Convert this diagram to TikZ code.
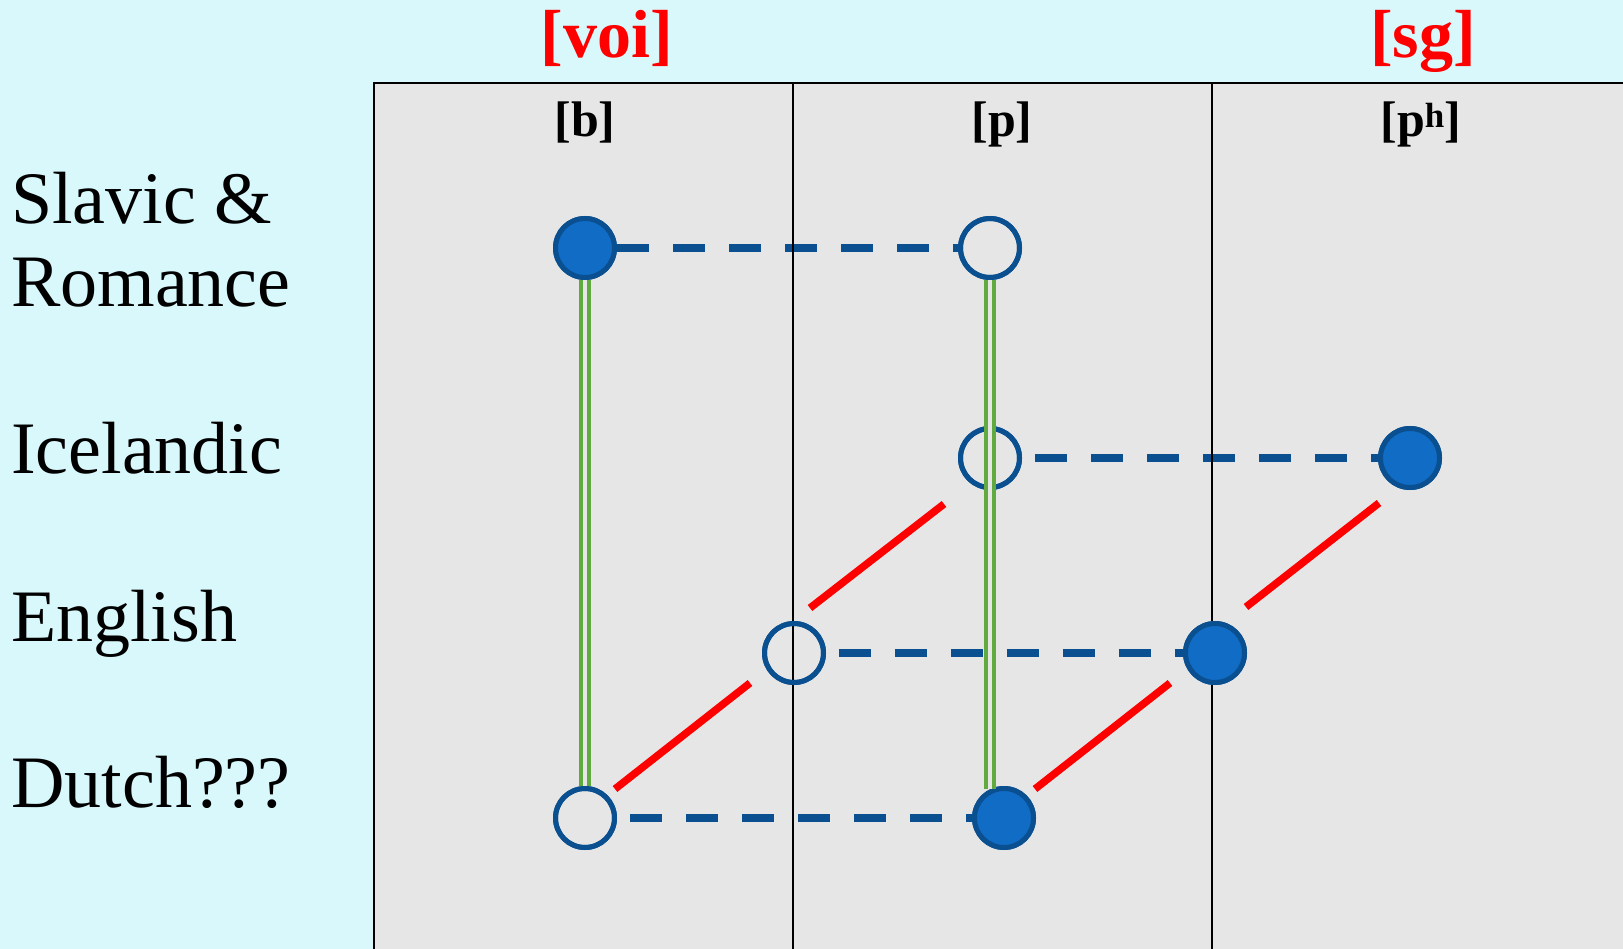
\documentclass[tikz,border=0pt]{standalone}
\usepackage{fontspec}
\setmainfont{Liberation Serif}
\usetikzlibrary{calc}
\definecolor{bgcyan}{RGB}{216,248,252}
\definecolor{cellgray}{RGB}{230,230,230}
\definecolor{dotfill}{RGB}{16,108,196}
\definecolor{dotline}{RGB}{10,80,145}
\definecolor{linkgreen}{RGB}{96,170,64}
\begin{document}
\begin{tikzpicture}[x=1pt,y=-1pt,
 dot/.style={circle,draw=dotline,line width=5pt,minimum size=59pt,inner sep=0pt},
 filled/.style={dot,fill=dotfill},
 hollow/.style={dot},
 link/.style={draw=dotline,line width=8pt,dash pattern=on 32pt off 24pt},
 twin/.style={draw=linkgreen,line width=4pt,double=cellgray,double distance=4pt},
 diag/.style={draw=red,line width=7.5pt},
 gridline/.style={draw=black,line width=2.5pt},
 lang/.style={anchor=base west,inner sep=0pt,font=\fontsize{74}{80}\selectfont},
 feat/.style={anchor=base,inner sep=0pt,text=red,font=\bfseries\fontsize{68}{72}\selectfont},
 seg/.style={anchor=base,inner sep=0pt,font=\bfseries\fontsize{50}{56}\selectfont}]
\useasboundingbox (0,0) rectangle (1623,949);
\fill[bgcyan] (0,0) rectangle (1623,949);
\fill[cellgray] (374,83) rectangle (1623,949);

% dots (positions)
\node[filled] (A) at (585,248) {};
\node[hollow] (B) at (990,248) {};
\node[hollow] (C) at (990,458) {};
\node[filled] (D) at (1410,458) {};
\node[hollow] (E) at (794,653) {};
\node[filled] (F) at (1215,653) {};
\node[hollow] (G) at (585,818) {};
\node[filled] (H) at (1004,818) {};

% dashed links
\draw[link] (A) -- (B);
\draw[link,shorten <=13pt] (C) -- (D);
\draw[link,shorten <=13pt] (E) -- (F);
\draw[link,shorten <=13pt] (G) -- (H);

% grid
\draw[gridline] (374,949) -- (374,83) -- (1623,83);
\draw[gridline] (793,83) -- (793,949);
\draw[gridline] (1212,83) -- (1212,949);

% redraw dots on top
\node[filled] at (A) {};
\node[hollow] at (B) {};
\node[hollow] at (C) {};
\node[filled] at (D) {};
\node[hollow] at (E) {};
\node[filled] at (F) {};
\node[hollow] at (G) {};
\node[filled] at (H) {};

% red diagonals
\coordinate (r1a) at (615,789); \coordinate (r1b) at (750,683);
\coordinate (r2a) at (810,608); \coordinate (r2b) at (944,504);
\coordinate (r3a) at (1035,789); \coordinate (r3b) at (1170,683);
\coordinate (r4a) at (1246,607); \coordinate (r4b) at (1379,503);
\draw[diag] (r1a) -- (r1b);
\draw[diag] (r2a) -- (r2b);
\draw[diag] (r3a) -- (r3b);
\draw[diag] (r4a) -- (r4b);

% green double lines
\draw[twin] (A.south) -- (G.north);
\draw[twin] (B.south) -- (B.south |- H.116);

% labels
\node[lang] (slav) at (11,224) {Slavic \&};
\node[lang] (rom) at (11,307) {Romance};
\node[lang] (ice) at (11,474) {Icelandic};
\node[lang] (eng) at (11,641) {English};
\node[lang] (dut) at (11,807) {Dutch???};

\node[feat] (voi) at (607,58) {[voi]};
\node[feat] (sg) at (1423,58) {[sg]};
\node[seg] (bb) at (585,137) {[b]};
\node[seg] (pp) at (1002,137) {[p]};
\node[seg] (ph) at (1421,137) {[p\textsuperscript{h}]};
\end{tikzpicture}
\end{document}
